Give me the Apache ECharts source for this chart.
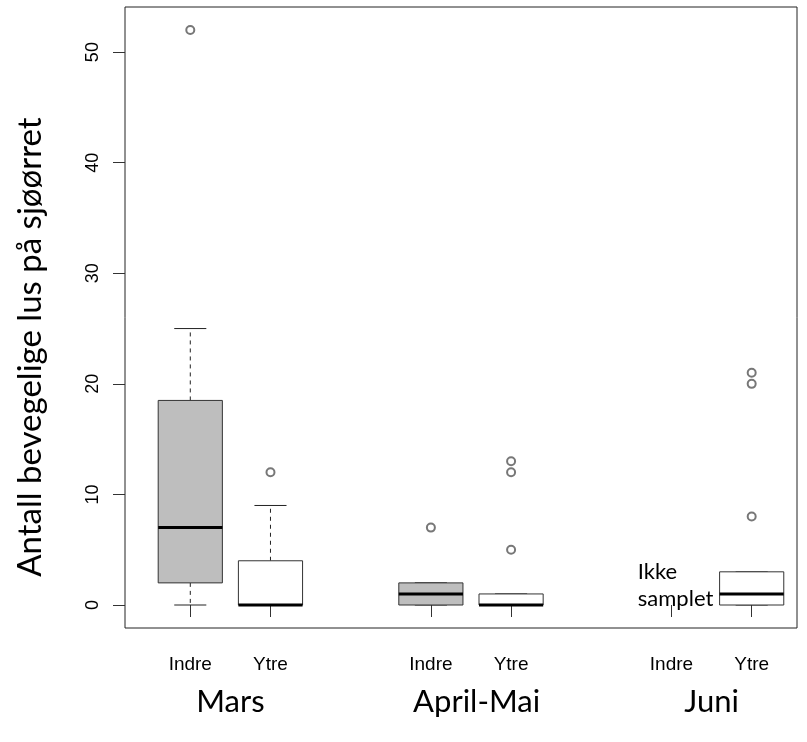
<!DOCTYPE html>
<html>
<head>
<meta charset="utf-8">
<script src="https://cdn.jsdelivr.net/npm/echarts@6/dist/echarts.min.js"></script>
<style>
html,body{margin:0;padding:0;background:#fff}
#c{width:807px;height:742px}
</style>
</head>
<body>
<div id="c"></div>
<script>
// ---- data ----
const tickPositions = [1, 2, 4, 5, 7, 8];
const tickLabels = ['Indre', 'Ytre', 'Indre', 'Ytre', 'Indre', 'Ytre'];
const groupPositions = [1.5, 4.57, 7.5];
const groupLabels = ['Mars', 'April-Mai', 'Juni'];
const yTicks = [0, 10, 20, 30, 40, 50];

const boxPositions = [1, 2, 4, 5, 8];
const boxSite = ['Indre', 'Ytre', 'Indre', 'Ytre', 'Ytre'];
const boxLow = [0, 0, 0, 0, 0];
const boxQ1 = [2, 0, 0, 0, 0];
const boxMedian = [7, 0, 1, 0, 1];
const boxQ3 = [18.5, 4, 2, 1, 3];
const boxHigh = [25, 9, 2, 1, 3];

const outlierPositions = [1, 2, 4, 5, 5, 5, 8, 8, 8];
const outlierValues = [52, 12, 7, 13, 12, 5, 21, 20, 8];

const noteText = 'Ikke\nsamplet';
const yTitle = 'Antall bevegelige lus på sjøørret';

// ---- chart ----
const boxData = boxPositions.map((p, i) => [p, boxLow[i], boxQ1[i], boxMedian[i], boxQ3[i], boxHigh[i], boxSite[i] === 'Indre' ? 1 : 0]);
const outlierData = outlierPositions.map((p, i) => [p, outlierValues[i]]);

function renderBox(params, api) {
  const x = api.value(0);
  const lo = api.coord([x, api.value(1)]);
  const q1 = api.coord([x, api.value(2)]);
  const md = api.coord([x, api.value(3)]);
  const q3 = api.coord([x, api.value(4)]);
  const hi = api.coord([x, api.value(5)]);
  const w = api.size([0.8, 0])[0];
  const cw = w / 2;
  const cx = lo[0];
  const fill = api.value(6) ? '#BEBEBE' : '#FFFFFF';
  const children = [];
  const dashStyle = { stroke: '#222', lineWidth: 1, lineDash: [4, 4] };
  const solid = { stroke: '#222', lineWidth: 1 };
  if (hi[1] < q3[1]) children.push({ type: 'line', shape: { x1: cx, y1: q3[1], x2: cx, y2: hi[1] }, style: dashStyle });
  if (lo[1] > q1[1]) children.push({ type: 'line', shape: { x1: cx, y1: q1[1], x2: cx, y2: lo[1] }, style: dashStyle });
  children.push({ type: 'line', shape: { x1: cx - cw / 2, y1: hi[1], x2: cx + cw / 2, y2: hi[1] }, style: solid });
  children.push({ type: 'line', shape: { x1: cx - cw / 2, y1: lo[1], x2: cx + cw / 2, y2: lo[1] }, style: solid });
  children.push({ type: 'rect', shape: { x: cx - w / 2, y: q3[1], width: w, height: q1[1] - q3[1] }, style: { fill: fill, stroke: '#333', lineWidth: 1 } });
  children.push({ type: 'line', shape: { x1: cx - w / 2, y1: md[1], x2: cx + w / 2, y2: md[1] }, style: { stroke: '#000', lineWidth: 3 } });
  return { type: 'group', children: children };
}

function renderNote(params, api) {
  const p = api.coord([api.value(0), api.value(1)]);
  return {
    type: 'text', x: p[0], y: p[1],
    style: { text: noteText, fill: '#000', fontFamily: 'Lato', fontSize: 22, lineHeight: 27, align: 'left', verticalAlign: 'middle' }
  };
}

const chart = echarts.init(document.getElementById('c'), null, { renderer: 'canvas' });
chart.setOption({
  animation: false,
  backgroundColor: '#fff',
  grid: { left: 125, right: 10, top: 7, bottom: 114, show: true, borderColor: '#222', borderWidth: 1, backgroundColor: 'transparent' },
  xAxis: [
    {
      type: 'value', min: 0.186, max: 8.565, position: 'bottom',
      axisLine: { show: false }, splitLine: { show: false },
      axisTick: { show: true, customValues: tickPositions, length: 12, inside: false, lineStyle: { color: '#333', width: 1 } },
      axisLabel: { show: true, customValues: tickPositions, margin: 27, fontFamily: 'Liberation Sans', fontSize: 19, color: '#000',
        formatter: function (v) { const i = tickPositions.indexOf(v); return i >= 0 ? tickLabels[i] : ''; } }
    },
    {
      type: 'value', min: 0.186, max: 8.565, position: 'bottom',
      axisLine: { show: false }, splitLine: { show: false }, axisTick: { show: false },
      axisLabel: { show: true, customValues: groupPositions, margin: 58, fontFamily: 'Lato', fontSize: 31, color: '#000',
        formatter: function (v) { const i = groupPositions.indexOf(v); return i >= 0 ? groupLabels[i] : ''; } }
    }
  ],
  yAxis: {
    type: 'value', min: -2.08, max: 54.08,
    axisLine: { show: false }, splitLine: { show: false },
    axisTick: { show: true, customValues: yTicks, length: 12, inside: false, lineStyle: { color: '#333', width: 1 } },
    axisLabel: { show: true, customValues: yTicks, rotate: 90, margin: 23, fontFamily: 'Liberation Sans', fontSize: 18, color: '#000' }
  },
  graphic: [
    { type: 'text', x: 30, y: 347, rotation: Math.PI / 2,
      style: { text: yTitle, fontFamily: 'Lato', fontSize: 33, fill: '#000', align: 'center', verticalAlign: 'middle' } }
  ],
  series: [
    { type: 'custom', name: 'boxes', xAxisIndex: 0, yAxisIndex: 0, renderItem: renderBox, data: boxData, clip: false, z: 2 },
    { type: 'scatter', name: 'outliers', xAxisIndex: 0, yAxisIndex: 0, data: outlierData, symbol: 'emptyCircle', symbolSize: 8,
      itemStyle: { color: '#555', borderWidth: 1 }, z: 3 },
    { type: 'custom', name: 'note', xAxisIndex: 0, yAxisIndex: 0, renderItem: renderNote, data: [[6.58, 1.8]], clip: false, z: 4 }
  ]
});
</script>
</body>
</html>
